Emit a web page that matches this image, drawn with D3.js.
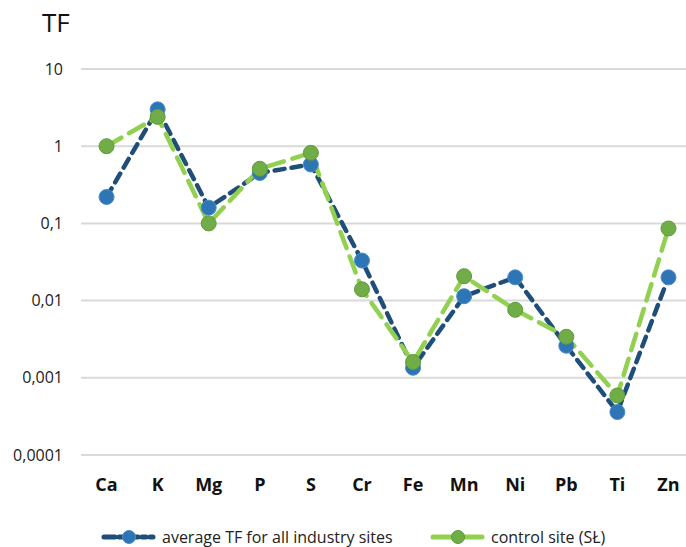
<!DOCTYPE html>
<html>
<head>
<meta charset="utf-8">
<script src="https://cdn.jsdelivr.net/npm/d3@7"></script>
<style>
  body { margin: 0; background: #fff; }
  svg { display: block; font-family: "Open Sans", "Liberation Sans", sans-serif; }
</style>
</head>
<body>
<div id="chart"></div>
<script>
// data
var elements = ["Ca", "K", "Mg", "P", "S", "Cr", "Fe", "Mn", "Ni", "Pb", "Ti", "Zn"];
var industryAvg = [0.22, 3.0, 0.16, 0.45, 0.58, 0.033, 0.00135, 0.0114, 0.020, 0.0026, 0.00036, 0.020];
var controlSite = [1.0, 2.4, 0.10, 0.51, 0.82, 0.014, 0.0016, 0.0207, 0.0076, 0.0034, 0.00059, 0.086];
var yTicks = [10, 1, 0.1, 0.01, 0.001, 0.0001];
var yTickLabels = ["10", "1", "0,1", "0,01", "0,001", "0,0001"];

var width = 686, height = 547;

var svg = d3.select("#chart")
  .append("svg")
  .attr("width", width)
  .attr("height", height);

// scales
var x = d3.scaleBand()
  .domain(elements)
  .range([81, 694]);

var y = d3.scaleLog()
  .domain([0.0001, 10])
  .range([455, 69]);

// gridlines
svg.append("g")
  .selectAll("line")
  .data(yTicks)
  .enter().append("line")
  .attr("x1", 81)
  .attr("x2", 694)
  .attr("y1", function (d) { return y(d); })
  .attr("y2", function (d) { return y(d); })
  .attr("stroke", "#d9d9d9")
  .attr("stroke-width", 2);

// y axis labels
svg.append("g")
  .selectAll("text")
  .data(yTicks)
  .enter().append("text")
  .attr("x", 63)
  .attr("y", function (d) { return y(d); })
  .attr("dy", "0.35em")
  .attr("text-anchor", "end")
  .style("font-size", "16px")
  .style("fill", "#222")
  .text(function (d, i) { return yTickLabels[i]; });

// axis title
svg.append("text")
  .attr("x", 42)
  .attr("y", 32)
  .style("font-size", "26px")
  .style("fill", "#111")
  .text("TF");

// category labels
svg.append("g")
  .selectAll("text")
  .data(elements)
  .enter().append("text")
  .attr("x", function (d) { return x(d) + x.bandwidth() / 2; })
  .attr("y", 491)
  .attr("text-anchor", "middle")
  .style("font-size", "18px")
  .style("font-weight", "bold")
  .style("fill", "#111")
  .text(function (d) { return d; });

var series = [
  { name: "average TF for all industry sites", values: industryAvg, line: "#1f4e79", dash: "10,7", dot: "#2e75b6", dotStroke: "#4a8bc9" },
  { name: "control site (SŁ)", values: controlSite, line: "#92d050", dash: "17,9", dot: "#70ad47", dotStroke: "#5f9a3b" }
];

var line = d3.line()
  .x(function (d, i) { return x(elements[i]) + x.bandwidth() / 2; })
  .y(function (d) { return y(d); });

// lines first, then the dots on top
series.forEach(function (s) {
  svg.append("path")
    .datum(s.values)
    .attr("d", line)
    .attr("fill", "none")
    .attr("stroke", s.line)
    .attr("stroke-width", 4.5)
    .attr("stroke-dasharray", s.dash)
    .attr("stroke-linecap", "round");
});

series.forEach(function (s) {
  svg.append("g")
    .selectAll("circle")
    .data(s.values)
    .enter().append("circle")
    .attr("cx", function (d, i) { return x(elements[i]) + x.bandwidth() / 2; })
    .attr("cy", function (d) { return y(d); })
    .attr("r", 7.5)
    .attr("fill", s.dot)
    .attr("stroke", s.dotStroke)
    .attr("stroke-width", 1);
});

// legend (kept just inside the bottom edge)
var legendX = [104, 433];
var legendDash = ["11,4,4,4", "20,0"];
var legendY = 537;
var legend = svg.append("g");
series.forEach(function (s, i) {
  var lx = legendX[i];
  legend.append("line")
    .attr("x1", lx)
    .attr("x2", lx + 49)
    .attr("y1", legendY)
    .attr("y2", legendY)
    .attr("stroke", s.line)
    .attr("stroke-width", 5)
    .attr("stroke-dasharray", legendDash[i])
    .attr("stroke-linecap", "round");
  legend.append("circle")
    .attr("cx", lx + 25)
    .attr("cy", legendY)
    .attr("r", 6.5)
    .attr("fill", s.dot)
    .attr("stroke", s.dotStroke);
  legend.append("text")
    .attr("x", lx + 58)
    .attr("y", legendY)
    .attr("dy", "0.35em")
    .style("font-size", "16px")
    .style("fill", "#222")
    .text(s.name);
});
</script>
</body>
</html>
